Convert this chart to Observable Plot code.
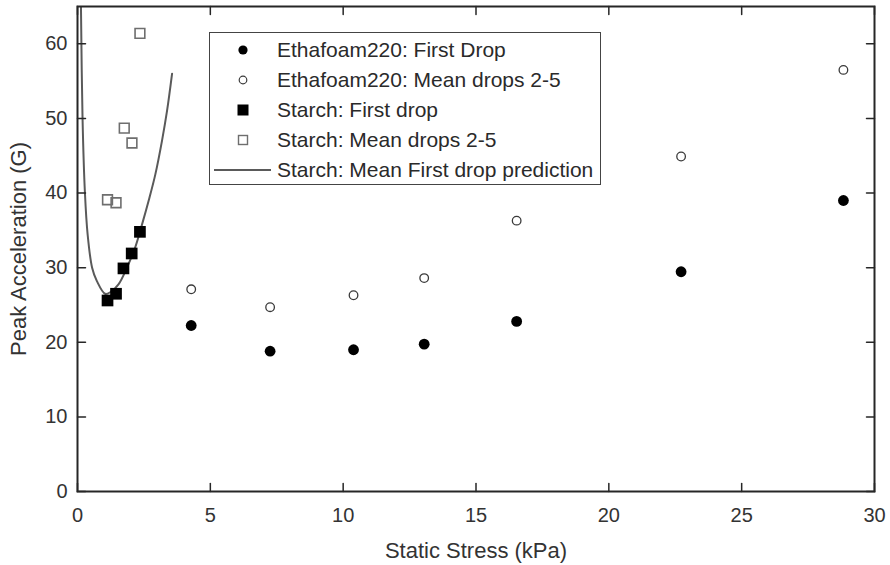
<!DOCTYPE html>
<html>
<head>
<meta charset="utf-8">
<script src="https://cdn.jsdelivr.net/npm/d3@7"></script>
<script src="https://cdn.jsdelivr.net/npm/@observablehq/plot@0.6"></script>
<style>
  body { margin: 0; background: #fff; }
  #wrap { position: relative; width: 890px; height: 565px; font-family: "Liberation Sans", Arial, sans-serif; }
  #legend { position: absolute; left: 209px; top: 32px; width: 392px; height: 153px; border: 1.5px solid #444; background: #fff; box-sizing: border-box; }
  .row { position: absolute; left: 0; height: 30px; width: 100%; }
  .row svg { position: absolute; left: 0; top: 0; }
  .row span { position: absolute; left: 67px; top: 3px; font-size: 21px; color: #2a2a2a; line-height: 24px; white-space: nowrap; }
</style>
</head>
<body>
<div id="wrap"></div>
<script>
// ---- data ----
const ethX = [4.28, 7.25, 10.39, 13.05, 16.53, 22.72, 28.83];
const ethFirst = [22.25, 18.8, 19.0, 19.75, 22.8, 29.45, 39.0];
const ethMean = [27.1, 24.7, 26.3, 28.6, 36.3, 44.9, 56.5];

const starchX = [1.13, 1.45, 1.73, 2.04, 2.35];
const starchFirst = [25.6, 26.5, 29.9, 31.9, 34.8];
const starchMeanX = [1.13, 1.45, 1.76, 2.05, 2.35];
const starchMean = [39.1, 38.7, 48.7, 46.7, 61.4];

const predX = [0.13, 0.19, 0.28, 0.38, 0.55, 0.73, 1.04, 1.23, 1.55, 1.86, 2.17, 2.43, 2.68, 2.93, 3.18, 3.37, 3.56];
const predY = [65, 50, 40, 34.5, 30, 28.2, 26.5, 26.7, 27.8, 30.0, 32.7, 35.8, 39.0, 42.5, 47.0, 51.0, 56.0];

const xTicks = [0, 5, 10, 15, 20, 25, 30];
const yTicks = [0, 10, 20, 30, 40, 50, 60];

const legendLabels = [
  "Ethafoam220: First Drop",
  "Ethafoam220: Mean drops 2-5",
  "Starch: First drop",
  "Starch: Mean drops 2-5",
  "Starch: Mean First drop prediction"
];

// ---- build tables ----
const ethFirstData = ethX.map((x, i) => ({x, y: ethFirst[i]}));
const ethMeanData = ethX.map((x, i) => ({x, y: ethMean[i]}));
const stFirstData = starchX.map((x, i) => ({x, y: starchFirst[i]}));
const stMeanData = starchMeanX.map((x, i) => ({x, y: starchMean[i]}));
const predData = predX.map((x, i) => ({x, y: predY[i]}));

const axisColor = "#262626";
const textColor = "#333333";
const tickShape = { draw(context, l) { context.moveTo(0, 0); context.lineTo(0, -l); } };
const tickLen = 8;

const chart = Plot.plot({
  width: 890,
  height: 565,
  marginLeft: 77,
  marginRight: 16,
  marginTop: 6,
  marginBottom: 74,
  style: { fontFamily: "'Liberation Sans', Arial, sans-serif", color: textColor, background: "#fff" },
  x: { domain: [0, 30] },
  y: { domain: [0, 65] },
  marks: [
    Plot.line(predData, { x: "x", y: "y", curve: "catmull-rom", stroke: "#5a5a5a", strokeWidth: 2, clip: true }),
    Plot.dot(ethFirstData, { x: "x", y: "y", r: 5.4, fill: "#000", stroke: "none" }),
    Plot.dot(ethMeanData, { x: "x", y: "y", r: 4.3, fill: "#fff", stroke: "#3a3a3a", strokeWidth: 1.3 }),
    Plot.dot(stFirstData, { x: "x", y: "y", symbol: "square", r: 6.6, fill: "#000", stroke: "none" }),
    Plot.dot(stMeanData, { x: "x", y: "y", symbol: "square", r: 5.5, fill: "none", stroke: "#6e6e6e", strokeWidth: 1.6 }),
    // inward ticks on all four sides
    Plot.vector(xTicks, { x: d => d, y: 0, length: tickLen, rotate: 0, anchor: "start", shape: tickShape, stroke: axisColor, strokeWidth: 1.5 }),
    Plot.vector(xTicks, { x: d => d, y: 65, length: tickLen, rotate: 180, anchor: "start", shape: tickShape, stroke: axisColor, strokeWidth: 1.5 }),
    Plot.vector(yTicks, { x: 0, y: d => d, length: tickLen, rotate: 90, anchor: "start", shape: tickShape, stroke: axisColor, strokeWidth: 1.5 }),
    Plot.vector(yTicks, { x: 30, y: d => d, length: tickLen, rotate: -90, anchor: "start", shape: tickShape, stroke: axisColor, strokeWidth: 1.5 }),
    Plot.axisX(xTicks, { tickSize: 0, tickPadding: 16, fontSize: 20, fill: textColor,
      label: "Static Stress (kPa)", labelAnchor: "center", labelArrow: "none", labelOffset: 66 }),
    Plot.axisY(yTicks, { tickSize: 0, tickPadding: 10, fontSize: 20, fill: textColor,
      label: "Peak Acceleration (G)", labelAnchor: "center", labelArrow: "none", labelOffset: 67 }),
    Plot.frame({ stroke: axisColor, strokeWidth: 2 })
  ]
});

// enlarge axis-label text
chart.querySelectorAll("g[aria-label='x-axis label'] text, g[aria-label='y-axis label'] text").forEach(t => {
  t.setAttribute("font-size", "22");
});

const wrap = document.getElementById("wrap");
wrap.appendChild(chart);

// legend (inside the axes, top-left)
const legend = document.createElement("div");
legend.id = "legend";
const symbols = [
  '<circle cx="33" cy="15" r="4.6" fill="#000"/>',
  '<circle cx="33" cy="15" r="3.8" fill="#fff" stroke="#3a3a3a" stroke-width="1.2"/>',
  '<rect x="27.5" y="9.5" width="11" height="11" fill="#000"/>',
  '<rect x="28.5" y="10.5" width="9" height="9" fill="none" stroke="#6e6e6e" stroke-width="1.4"/>',
  '<line x1="4" y1="15" x2="61" y2="15" stroke="#5a5a5a" stroke-width="2"/>'
];
legendLabels.forEach((lab, i) => {
  const row = document.createElement("div");
  row.className = "row";
  row.style.top = (2 + i * 30) + "px";
  row.innerHTML = `<svg width="66" height="30">${symbols[i]}</svg><span>${lab}</span>`;
  legend.appendChild(row);
});
wrap.appendChild(legend);
</script>
</body>
</html>
